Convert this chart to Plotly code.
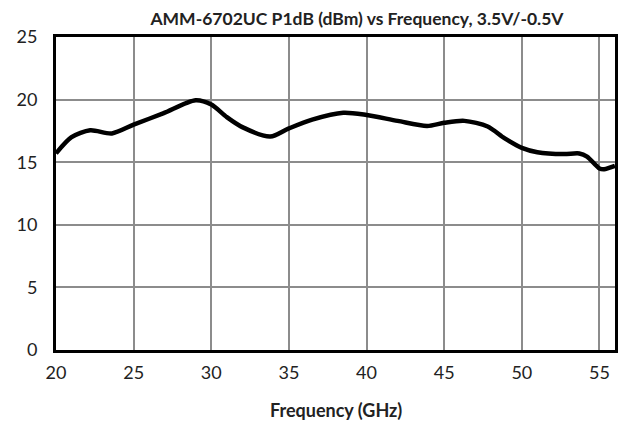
import plotly.graph_objects as go

freq_ghz = [20, 21, 22.2, 23.6, 25, 26.9, 29, 30, 31, 32, 33.8, 35, 36.5, 38.5, 40,
            42, 43.9, 45, 46.3, 47.8, 48.9, 50, 51, 52.7, 53.7, 54.2, 55, 55.3, 56]
p1db_dbm = [15.7, 17.0, 17.55, 17.3, 18.0, 18.9, 19.95, 19.6, 18.6, 17.8, 17.05, 17.7, 18.4, 18.95, 18.77,
            18.3, 17.9, 18.15, 18.3, 17.85, 16.9, 16.15, 15.8, 15.65, 15.7, 15.45, 14.5, 14.43, 14.7]

x_ticks = [20, 25, 30, 35, 40, 45, 50, 55]
y_ticks = [0, 5, 10, 15, 20, 25]

fig = go.Figure()
fig.add_trace(go.Scatter(
    x=freq_ghz, y=p1db_dbm, mode="lines",
    line=dict(color="black", width=4.5, shape="spline", smoothing=0.8),
    showlegend=False, hoverinfo="skip",
))

font_family = "Lato, 'Open Sans', sans-serif"
fig.update_layout(
    width=638, height=423,
    margin=dict(l=48, r=31, t=29, b=81, autoexpand=False),
    plot_bgcolor="white", paper_bgcolor="white",
    font=dict(family=font_family, color="#222"),
    title=dict(text="<b>AMM-6702UC P1dB (dBm) vs Frequency, 3.5V/-0.5V</b>",
               x=0.547, xanchor="center", y=0.975, yanchor="middle",
               font=dict(size=17.5, color="#222", family=font_family)),
    annotations=[dict(text="<b>Frequency (GHz)</b>", xref="paper", yref="paper",
                      x=0.5, y=-0.192, xanchor="center", yanchor="middle",
                      showarrow=False, font=dict(size=18, color="#222", family=font_family))],
)
fig.update_xaxes(
    range=[20, 56], tickvals=x_ticks, ticktext=[str(v) for v in x_ticks],
    showgrid=True, gridcolor="#8c8c8c", gridwidth=1.5,
    showline=True, linecolor="black", linewidth=3, mirror=True,
    ticks="", tickfont=dict(size=18, color="#222"), ticklabelstandoff=4,
    zeroline=False,
)
fig.update_yaxes(
    range=[0, 25], tickvals=y_ticks, ticktext=[str(v) for v in y_ticks],
    showgrid=True, gridcolor="#8c8c8c", gridwidth=1.5,
    showline=True, linecolor="black", linewidth=3, mirror=True,
    ticks="", tickfont=dict(size=18, color="#222"), ticklabelstandoff=12,
    zeroline=False,
)

fig.write_html("out.html")
